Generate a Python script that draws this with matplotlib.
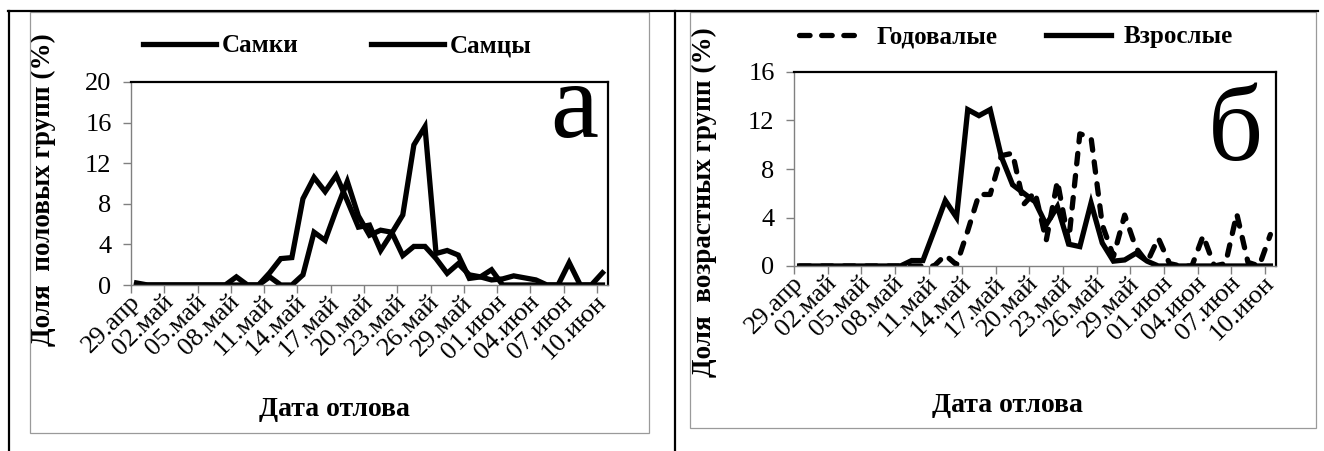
import numpy as np
import matplotlib
matplotlib.use("Agg")
import matplotlib.pyplot as plt
import matplotlib.transforms as mtransforms
from matplotlib.patches import Rectangle
from matplotlib.lines import Line2D

plt.rcParams['font.family'] = ['Liberation Serif', 'DejaVu Serif']

# daily catch shares, 29 Apr .. 10 Jun (43 days)
date_labels = ["29.апр", "02.май", "05.май", "08.май", "11.май", "14.май", "17.май",
               "20.май", "23.май", "26.май", "29.май", "01.июн", "04.июн", "07.июн",
               "10.июн"]

females = [0.2, 0, 0, 0, 0, 0, 0, 0, 0, 0,
           0, 0, 1.2, 2.6, 2.7, 8.5, 10.6, 9.2, 10.8, 8.3,
           5.7, 5.9, 3.4, 5.1, 6.9, 13.8, 15.6, 3.1, 3.4, 2.95,
           0.65, 0.8, 1.5, 0, 0, 0, 0, 0, 0, 2.2,
           0, 0, 1.2]
males = [0, 0, 0, 0, 0, 0, 0, 0, 0, 0.8,
         0, 0, 0.8, 0, 0, 1.0, 5.2, 4.4, 7.4, 10.2,
         6.8, 4.9, 5.4, 5.2, 2.9, 3.8, 3.8, 2.6, 1.15, 2.1,
         1.0, 0.8, 0.5, 0.6, 0.9, 0.7, 0.5, 0, 0, 0,
         0, 0, 0]

yearlings = [0, 0, 0, 0, 0, 0, 0, 0, 0, 0,
             0, 0, 0, 0.9, 0.1, 2.9, 5.9, 5.9, 9.1, 9.3,
             5.1, 6.1, 2.1, 7.0, 2.0, 10.9, 10.6, 3.4, 0.8, 4.2,
             1.5, 0.3, 2.3, 0.2, 0, 0, 2.5, 0, 0.2, 4.3,
             0.3, 0, 2.6]
adults = [0, 0, 0, 0, 0, 0, 0, 0, 0, 0,
          0.45, 0.45, 2.9, 5.4, 4.0, 12.9, 12.4, 12.9, 9.0, 6.7,
          6.0, 5.3, 3.4, 4.9, 1.8, 1.6, 5.2, 1.9, 0.4, 0.5,
          1.05, 0.4, 0, 0, 0, 0, 0, 0, 0, 0,
          0, 0, 0]

W, H = 1324, 451
fig = plt.figure(figsize=(W / 100, H / 100), dpi=100)


def box(x0, x1, y_bot, y_top):
    # pixel box (from top-left) -> figure fraction rect
    return [x0 / W, 1 - y_bot / H, (x1 - x0) / W, (y_bot - y_top) / H]


# outer table lines and chart-area borders
for xs, ys in [([8, 1318], [11, 11]), ([9, 9], [11, 451]), ([675, 675], [11, 451])]:
    fig.add_artist(Line2D([x / W for x in xs], [1 - y / H for y in ys],
                          transform=fig.transFigure, color='black', lw=1.6))
for x0, x1, y1 in [(30, 649, 433), (690, 1316, 428)]:
    fig.add_artist(Rectangle((x0 / W, 1 - y1 / H), (x1 - x0) / W, (y1 - 12) / H,
                             transform=fig.transFigure, fill=False,
                             edgecolor='#9a9a9a', lw=0.9))

ax_a = fig.add_axes(box(131, 608, 285, 82))
ax_b = fig.add_axes(box(794, 1276, 266, 72))

n = len(females)
x = np.arange(n) + 0.5
lw = 3.8
shift = mtransforms.ScaledTranslation(5 / 100, 0, fig.dpi_scale_trans)


def style_axes(ax, ymax, ylabel, letter, ylab_xy, xlab_xy):
    ax.set_xlim(0, n)
    ax.set_ylim(0, ymax)
    ax.set_yticks(np.arange(0, ymax + 1, 4))
    ax.set_xticks(np.arange(0, n, 3))
    ax.set_xticklabels([])
    ax.set_xticks(np.arange(0, n, 3) + 0.5, minor=True)
    ax.set_xticklabels(date_labels, minor=True, rotation=45, ha='right',
                       va='center', rotation_mode='anchor', fontsize=19)
    for lab in ax.get_xticklabels(minor=True):
        lab.set_transform(lab.get_transform() + shift)
    ax.tick_params(axis='x', which='major', direction='out', length=6,
                   width=1, color='#808080')
    ax.tick_params(axis='x', which='minor', length=0, pad=10)
    ax.tick_params(axis='y', direction='out', length=6, width=1,
                   color='#808080', labelsize=19, pad=8)
    for s in ('left', 'bottom'):
        ax.spines[s].set_color('#808080')
        ax.spines[s].set_linewidth(1.0)
    for s in ('top', 'right'):
        ax.spines[s].set_color('black')
        ax.spines[s].set_linewidth(1.6)
    ax.set_ylabel(ylabel, fontsize=19.5, fontweight='bold')
    ax.yaxis.set_label_coords(*ylab_xy)
    ax.set_xlabel("Дата отлова", fontsize=20, fontweight='bold')
    ax.xaxis.set_label_coords(*xlab_xy)
    ax.xaxis.label.set_va('center')
    ax.text(0.985, 0.0, letter, transform=ax.transAxes, ha='right',
            va='baseline', fontsize=78)


# panel a: sex groups
ax_a.plot(x, females, color='black', lw=lw, solid_joinstyle='miter', label='Самки')
ax_a.plot(x, males, color='black', lw=lw, solid_joinstyle='miter', label='Самцы')
style_axes(ax_a, 20, "Доля  половых групп (%)", "а",
           ((56 - 131) / 477, (285 - 190) / 203),
           ((334 - 131) / 477, (285 - 410) / 203))
ax_a.texts[-1].set_position(((598 - 131) / 477, (285 - 137) / 203))
ax_a.legend(loc='center left', bbox_to_anchor=(143 / W, 1 - 46 / H),
            bbox_transform=fig.transFigure, ncol=2, frameon=False,
            prop={'weight': 'bold', 'size': 18}, handlelength=2.9,
            handletextpad=0.25, columnspacing=2.9, borderpad=0, borderaxespad=0)

# panel b: age groups
ax_b.plot(x, yearlings, color='black', lw=lw, linestyle=(0, (2.0, 2.2)),
          dash_capstyle='round', label='Годовалые')
ax_b.plot(x, adults, color='black', lw=lw, solid_joinstyle='miter', label='Взрослые')
style_axes(ax_b, 16, "Доля  возрастных групп (%)", "б",
           ((717 - 794) / 482, (266 - 202) / 194),
           ((1007 - 794) / 482, (266 - 405) / 194))
ax_b.texts[-1].set_position(((1263 - 794) / 482, (266 - 160) / 194))
ax_b.legend(loc='center left', bbox_to_anchor=(799 / W, 1 - 37 / H),
            bbox_transform=fig.transFigure, ncol=2, frameon=False,
            prop={'weight': 'bold', 'size': 18}, handlelength=2.6,
            handletextpad=0.5, columnspacing=1.95, borderpad=0, borderaxespad=0)

fig.savefig("out.png", dpi=100)
